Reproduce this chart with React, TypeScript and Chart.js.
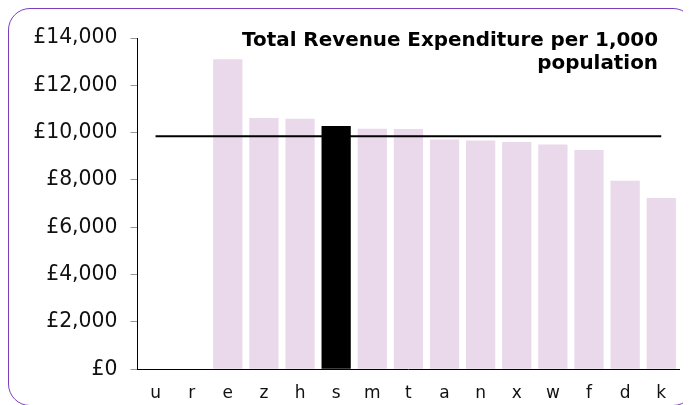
import React, { useEffect, useRef } from "react";
import { Chart, registerables } from "chart.js";

Chart.register(...registerables);

const categories = ["u", "r", "e", "z", "h", "s", "m", "t", "a", "n", "x", "w", "f", "d", "k"];
const expenditure = [null, null, 13100, 10620, 10590, 10280, 10160, 10150, 9710, 9670, 9600, 9500, 9270, 7970, 7240];
const averageValue = 9850;
const averageLine = categories.map(() => averageValue);
const highlight = "s";
const titleLines = ["Total Revenue Expenditure per 1,000", "population"];
const yTicks = { min: 0, max: 14000, step: 2000 };

const FONT = "'DejaVu Sans', Verdana, sans-serif";

const titlePlugin = {
  id: "cornerTitle",
  afterDraw(chart: any) {
    const { ctx } = chart;
    ctx.save();
    ctx.font = `bold 19.9px ${FONT}`;
    ctx.fillStyle = "#000";
    ctx.textAlign = "right";
    ctx.textBaseline = "alphabetic";
    const x = 650;
    ctx.fillText(titleLines[0], x, 37.5);
    ctx.fillText(titleLines[1], x, 61);
    ctx.restore();
  },
};

export default function App() {
  const ref = useRef<HTMLCanvasElement>(null);
  useEffect(() => {
    if (!ref.current) return;
    const chart = new Chart(ref.current, {
      type: "bar",
      data: {
        labels: categories,
        datasets: [
          {
            type: "line",
            data: averageLine,
            borderColor: "#000",
            borderWidth: 2,
            pointRadius: 0,
            fill: false,
          } as any,
          {
            type: "bar",
            data: expenditure as any,
            backgroundColor: categories.map((c) => (c === highlight ? "#000000" : "#EAD8EB")),
            borderWidth: 0,
            barPercentage: 0.81,
            categoryPercentage: 1,
          },
        ],
      },
      options: {
        animation: false,
        responsive: false,
        maintainAspectRatio: false,
        layout: { padding: { top: 30, right: 11.7, bottom: 0, left: 0 } },
        plugins: { legend: { display: false }, tooltip: { enabled: false }, title: { display: false } },
        scales: {
          x: {
            grid: { display: false, drawTicks: false },
            border: { display: true, color: "#000", width: 1 },
            ticks: { color: "#111", font: { family: FONT, size: 17 }, padding: 14 },
            afterFit: (s: any) => {
              s.height = 35.7;
            },
          },
          y: {
            min: yTicks.min,
            max: yTicks.max,
            grid: { drawOnChartArea: false, drawTicks: true, tickLength: 7, tickColor: "#999", tickWidth: 1 },
            border: { display: true, color: "#000", width: 1 },
            ticks: {
              stepSize: yTicks.step,
              color: "#111",
              font: { family: FONT, size: 20.4 },
              padding: 13,
              callback: (v: any) => "£" + Number(v).toLocaleString("en-GB"),
            },
            afterFit: (s: any) => {
              s.width = 129.5;
            },
          },
        },
      },
      plugins: [titlePlugin],
    });
    return () => chart.destroy();
  }, []);

  return (
    <div style={{ position: "relative", width: 683, height: 397, overflow: "hidden" }}>
      <canvas ref={ref} width={683} height={397} style={{ display: "block" }} />
      <div
        style={{
          position: "absolute",
          left: 0,
          top: 0,
          width: 685,
          height: 396,
          border: "1.5px solid #7B3FBA",
          borderRadius: 22,
          pointerEvents: "none",
        }}
      />
    </div>
  );
}
